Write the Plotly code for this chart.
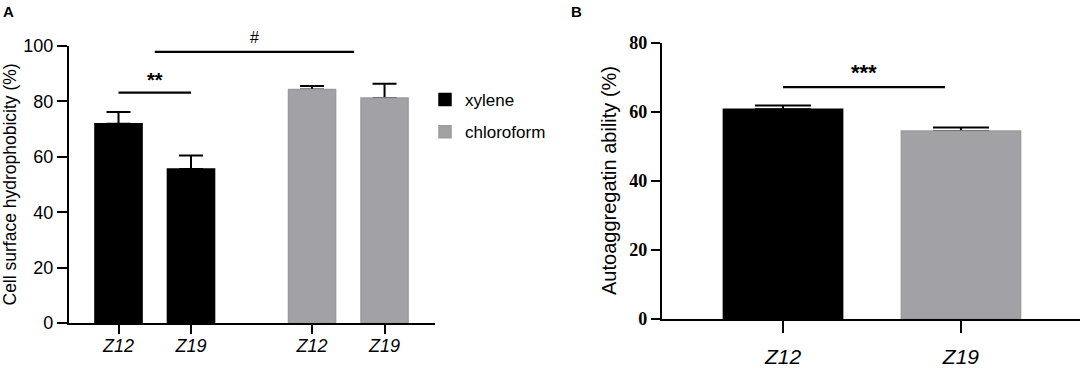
import plotly.graph_objects as go

W, H = 1084, 369

# ---- Data (panel A) ----
a_categories = ["Z12", "Z19", "Z12", "Z19"]
a_positions = [0.0, 1.0, 2.67, 3.67]
xylene_vals = [71.9, 55.6]
xylene_err = [4.3, 4.9]
chloro_vals = [84.3, 81.2]
chloro_err = [1.3, 5.2]
a_yticks = [0, 20, 40, 60, 80, 100]
# significance brackets (data units)
a_sig1_x = [0.0, 1.0]
a_sig1_y = [83.2, 83.2]
a_sig1_text = "**"
a_sig2_x = [0.5, 3.25]
a_sig2_y = [97.9, 97.9]
a_sig2_text = "#"

# ---- Data (panel B) ----
b_categories = ["Z12", "Z19"]
b_positions = [0.0, 1.0]
b_vals = [60.8, 54.5]
b_err = [1.1, 1.0]
b_yticks = [0, 20, 40, 60, 80]
b_sig_x = [0.0, 0.91]
b_sig_y = [67.2, 67.2]
b_sig_text = "***"

BLACK = "#000000"
GRAY = "#a2a2a6"
GRAY_EDGE = "#9c9ca0"


def px_x(p):
    return p / W


def px_y(p):
    return 1 - p / H


fig = go.Figure()


def err(arr, w):
    return dict(type="data", symmetric=False, array=arr, arrayminus=[0] * len(arr),
                color=BLACK, thickness=2, width=w)


# error bars first (drawn underneath the visible bars), then the bars
fig.add_trace(go.Bar(
    x=a_positions[:2] + a_positions[2:], y=xylene_vals + chloro_vals, width=0.65,
    marker=dict(color="rgba(0,0,0,0)", line=dict(width=0)),
    error_y=err(xylene_err + chloro_err, 12),
    xaxis="x", yaxis="y", showlegend=False, hoverinfo="skip",
))
fig.add_trace(go.Bar(
    x=b_positions, y=b_vals, width=0.67,
    marker=dict(color="rgba(0,0,0,0)", line=dict(width=0)),
    error_y=err(b_err, 28),
    xaxis="x2", yaxis="y2", showlegend=False, hoverinfo="skip",
))

fig.add_trace(go.Bar(
    x=a_positions[:2], y=xylene_vals, width=0.65, name="xylene",
    marker=dict(color=BLACK, line=dict(width=1.5, color=BLACK)),
    xaxis="x", yaxis="y", legendgroup="g1", showlegend=True,
))
fig.add_trace(go.Bar(
    x=a_positions[2:], y=chloro_vals, width=0.65, name="chloroform",
    marker=dict(color=GRAY, line=dict(width=1.5, color=GRAY_EDGE)),
    xaxis="x", yaxis="y", legendgroup="g2", showlegend=True,
))
fig.add_trace(go.Bar(
    x=b_positions, y=b_vals, width=0.67,
    marker=dict(color=[BLACK, GRAY], line=dict(width=1.5, color=[BLACK, GRAY_EDGE])),
    xaxis="x2", yaxis="y2", showlegend=False,
))

line_style = dict(color=BLACK, width=2.2)
for xs, ys, xa, ya in [(a_sig1_x, a_sig1_y, "x", "y"),
                       (a_sig2_x, a_sig2_y, "x", "y"),
                       (b_sig_x, b_sig_y, "x2", "y2")]:
    fig.add_trace(go.Scatter(x=xs, y=ys, mode="lines", line=line_style,
                             xaxis=xa, yaxis=ya, showlegend=False,
                             hoverinfo="skip", cliponaxis=False))

annotations = [
    dict(x=sum(a_sig1_x) / 2, y=a_sig1_y[0], xref="x", yref="y", text=a_sig1_text,
         showarrow=False, yanchor="bottom", yshift=0,
         font=dict(family="Liberation Sans", size=20, color=BLACK, weight="bold")),
    dict(x=sum(a_sig2_x) / 2, y=a_sig2_y[0], xref="x", yref="y", text=a_sig2_text,
         showarrow=False, yanchor="bottom", yshift=4,
         font=dict(family="Liberation Sans", size=16, color=BLACK)),
    dict(x=0.455, y=b_sig_y[0], xref="x2", yref="y2", text=b_sig_text,
         showarrow=False, yanchor="bottom", yshift=0,
         font=dict(family="Liberation Sans", size=22, color=BLACK, weight="bold")),
    dict(x=px_x(9), y=(px_y(46) + px_y(323)) / 2, xref="paper", yref="paper",
         text="Cell surface hydrophobicity (%)", textangle=-90, showarrow=False,
         xanchor="center", yanchor="middle",
         font=dict(family="Liberation Sans", size=17.5, color=BLACK)),
    dict(x=px_x(609), y=(px_y(43) + px_y(319)) / 2, xref="paper", yref="paper",
         text="Autoaggregatin ability (%)", textangle=-90, showarrow=False,
         xanchor="center", yanchor="middle",
         font=dict(family="Liberation Sans", size=20, color=BLACK)),
    dict(x=px_x(8), y=px_y(12), xref="paper", yref="paper", text="A",
         showarrow=False, xanchor="center", yanchor="middle",
         font=dict(family="Liberation Sans", size=15, color=BLACK, weight="bold")),
    dict(x=px_x(576), y=px_y(12), xref="paper", yref="paper", text="B",
         showarrow=False, xanchor="center", yanchor="middle",
         font=dict(family="Liberation Sans", size=15, color=BLACK, weight="bold")),
]

axis_common = dict(showline=True, linewidth=2.2, linecolor=BLACK, showgrid=False,
                   zeroline=False, ticks="outside", tickwidth=2, tickcolor=BLACK,
                   automargin=False)

fig.update_layout(
    width=W, height=H,
    margin=dict(l=0, r=0, t=0, b=0, pad=0, autoexpand=False),
    paper_bgcolor="white", plot_bgcolor="white",
    barmode="overlay",
    showlegend=True,
    legend=dict(x=px_x(425), y=px_y(82), xanchor="left", yanchor="top",
                font=dict(family="Liberation Sans", size=17, color=BLACK),
                bgcolor="rgba(0,0,0,0)", traceorder="grouped", tracegroupgap=7),
    xaxis=dict(domain=[px_x(69), px_x(435)], range=[-0.683, 4.366],
               tickvals=a_positions, ticktext=a_categories, ticklen=9,
               ticklabelstandoff=-4,
               tickfont=dict(family="Liberation Sans", size=18, color=BLACK, style="italic"),
               anchor="y", **axis_common),
    yaxis=dict(domain=[px_y(323), px_y(46)], range=[0, 100], tickvals=a_yticks,
               ticklen=10,
               tickfont=dict(family="Liberation Sans", size=18, color=BLACK),
               anchor="x", **axis_common),
    xaxis2=dict(domain=[px_x(662), px_x(1080)], range=[-0.68, 1.669],
                tickvals=b_positions, ticktext=b_categories, ticklen=12,
                ticklabelstandoff=6,
                tickfont=dict(family="Liberation Sans", size=21, color=BLACK, style="italic"),
                anchor="y2", **axis_common),
    yaxis2=dict(domain=[px_y(319), px_y(43)], range=[0, 80], tickvals=b_yticks,
                ticklen=9,
                tickfont=dict(family="Liberation Serif", size=18, color=BLACK, weight="bold"),
                anchor="x2", **axis_common),
    annotations=annotations,
)

fig.write_html("out.html", config={"displayModeBar": False},
               post_script="document.body.style.margin='0';document.body.style.overflow='hidden';")
